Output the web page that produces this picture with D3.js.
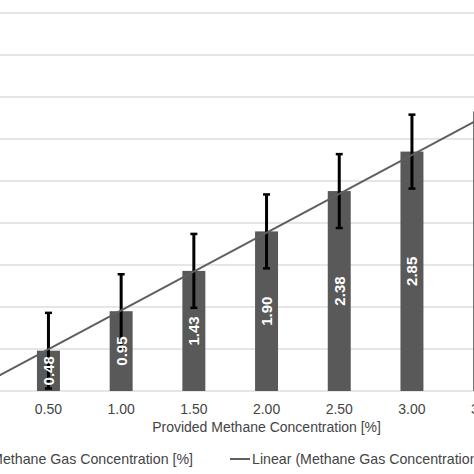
<!DOCTYPE html>
<html>
<head>
<meta charset="utf-8">
<script src="https://cdn.jsdelivr.net/npm/d3@7"></script>
<style>
  body { margin: 0; background: #fff; }
  svg { display: block; font-family: "Liberation Sans", Arial, sans-serif; }
</style>
</head>
<body>
<div id="chart"></div>
<script>
// category axis (the plot runs past the visible crop on both sides)
const categories = ["0.00", "0.50", "1.00", "1.50", "2.00", "2.50", "3.00", "3.50", "4.00"];

// measured bars
const barCats = ["0.50", "1.00", "1.50", "2.00", "2.50", "3.00", "3.50"];
const barValues = [0.48, 0.95, 1.43, 1.90, 2.38, 2.85, 3.33];
const barErrors = [0.45, 0.44, 0.44, 0.44, 0.44, 0.44, 0.44];

const yTicks = [0, 0.5, 1, 1.5, 2, 2.5, 3, 3.5, 4, 4.5];

// linear trendline: value = a + b * concentration
const trend = { a: 0.034, b: 0.925 };

const legendLabels = ["Methane Gas Concentration [%]", "Linear (Methane Gas Concentration [%])"];

const W = 474, H = 474;
const COLORS = { bar: "#595959", grid: "#dedede", text: "#444", trend: "#5f5f5f" };

const svg = d3.select("#chart").append("svg")
  .attr("width", W).attr("height", H);

const x = d3.scaleBand()
  .domain(categories)
  .range([-60.6, 593.7])
  .paddingInner(0.684)
  .paddingOuter(0.342);

const y = d3.scaleLinear().domain([0, 4.5]).range([391, 13]);

const xCenter = (c) => x(c) + x.bandwidth() / 2;
// concentration -> pixel, for the trendline
const xc = d3.scaleLinear().domain([0.5, 1.0]).range([xCenter("0.50"), xCenter("1.00")]);

// gridlines
svg.append("g")
  .selectAll("line")
  .data(yTicks)
  .join("line")
  .attr("x1", 0).attr("x2", W)
  .attr("y1", (d) => y(d)).attr("y2", (d) => y(d))
  .attr("stroke", COLORS.grid)
  .attr("stroke-width", 1.3);

const bars = barCats.map((c, i) => ({ c, v: barValues[i], e: barErrors[i] }));

svg.append("g")
  .selectAll("rect")
  .data(bars)
  .join("rect")
  .attr("x", (d) => x(d.c))
  .attr("width", x.bandwidth())
  .attr("y", (d) => y(d.v))
  .attr("height", (d) => y(0) - y(d.v))
  .attr("fill", COLORS.bar);

// error bars
const eb = svg.append("g").attr("stroke", "#000");
eb.selectAll(".stem")
  .data(bars)
  .join("line")
  .attr("class", "stem")
  .attr("x1", (d) => xCenter(d.c)).attr("x2", (d) => xCenter(d.c))
  .attr("y1", (d) => y(d.v + d.e)).attr("y2", (d) => y(d.v - d.e))
  .attr("stroke-width", 3);
["top", "bot"].forEach((k) => {
  eb.selectAll(".cap-" + k)
    .data(bars)
    .join("line")
    .attr("class", "cap-" + k)
    .attr("x1", (d) => xCenter(d.c) - 3.5).attr("x2", (d) => xCenter(d.c) + 3.5)
    .attr("y1", (d) => y(k === "top" ? d.v + d.e : d.v - d.e))
    .attr("y2", (d) => y(k === "top" ? d.v + d.e : d.v - d.e))
    .attr("stroke-width", 2.5);
});

// trendline
const tx = [-0.3, 4.3];
svg.append("line")
  .attr("x1", xc(tx[0])).attr("y1", y(trend.a + trend.b * tx[0]))
  .attr("x2", xc(tx[1])).attr("y2", y(trend.a + trend.b * tx[1]))
  .attr("stroke", COLORS.trend)
  .attr("stroke-width", 2);

// labels inside bars, rotated, on top of the error bars
svg.append("g")
  .selectAll("text")
  .data(bars)
  .join("text")
  .attr("transform", (d) => `translate(${xCenter(d.c)},${(y(d.v) + y(0)) / 2}) rotate(-90)`)
  .attr("text-anchor", "middle")
  .attr("dominant-baseline", "central")
  .attr("fill", "#fff")
  .attr("font-weight", "bold")
  .attr("font-size", 15)
  .text((d) => d.v.toFixed(2));

// x axis tick labels
svg.append("g")
  .selectAll("text")
  .data(categories)
  .join("text")
  .attr("x", (d) => xCenter(d))
  .attr("y", 414)
  .attr("text-anchor", "middle")
  .attr("fill", COLORS.text)
  .attr("font-size", 14)
  .text((d) => d);

svg.append("text")
  .attr("x", xCenter("2.00"))
  .attr("y", 432)
  .attr("text-anchor", "middle")
  .attr("fill", COLORS.text)
  .attr("font-size", 14)
  .text("Provided Methane Concentration [%]");

// legend
svg.append("rect")
  .attr("x", -30).attr("y", 453).attr("width", 10).attr("height", 10)
  .attr("fill", COLORS.bar);
svg.append("text")
  .attr("x", 193).attr("y", 464)
  .attr("text-anchor", "end")
  .attr("fill", COLORS.text)
  .attr("font-size", 14.2)
  .text(legendLabels[0]);
svg.append("line")
  .attr("x1", 230).attr("x2", 250)
  .attr("y1", 459).attr("y2", 459)
  .attr("stroke", COLORS.trend)
  .attr("stroke-width", 2);
svg.append("text")
  .attr("x", 252).attr("y", 464)
  .attr("fill", COLORS.text)
  .attr("font-size", 14.2)
  .text(legendLabels[1]);
</script>
</body>
</html>
